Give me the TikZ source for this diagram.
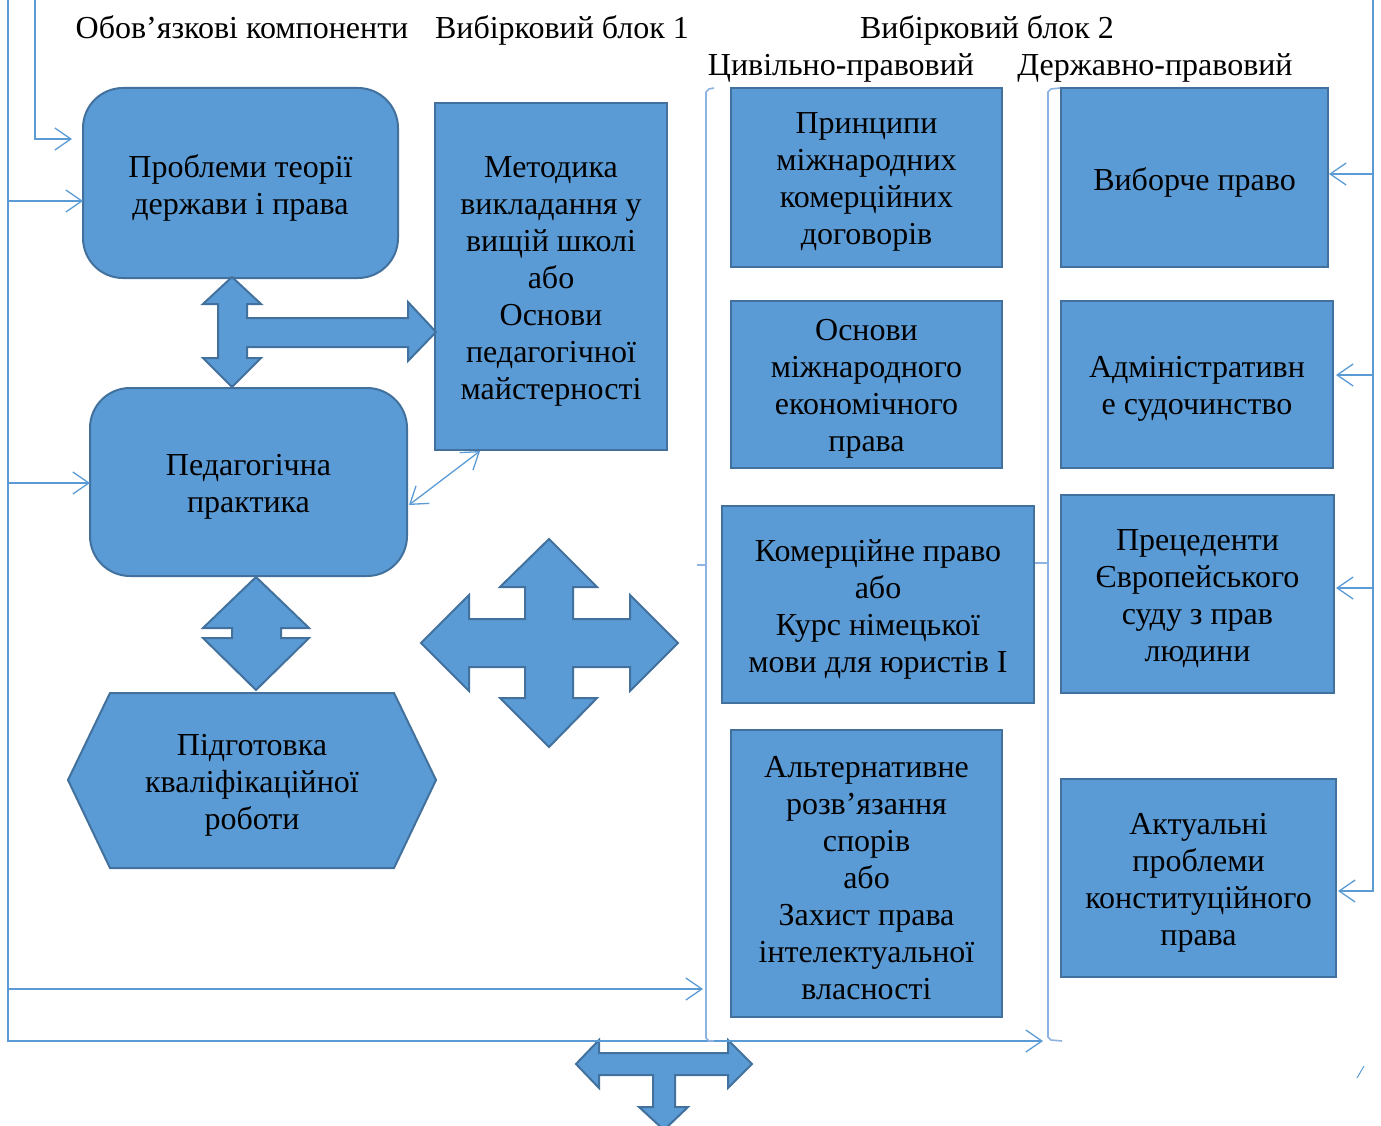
\documentclass[tikz,border=0pt]{standalone}
\usepackage{fontspec}
\setmainfont{Liberation Serif}
\usetikzlibrary{arrows.meta}
\definecolor{boxfill}{HTML}{5B9BD5}
\definecolor{boxline}{HTML}{41719C}
\definecolor{conn}{HTML}{5B9BD5}
\definecolor{brk}{HTML}{8DB3E2}
\begin{document}
\begin{tikzpicture}[x=1pt,y=-1pt,
  txt/.style={font=\fontsize{32}{37}\selectfont, align=center, inner sep=0pt},
  box/.style={draw=boxline, fill=boxfill, line width=2pt, inner sep=0pt},
  rbox/.style={box, rounded corners=40pt},
  lab/.style={label={[txt,yshift=-4.5pt]center:{#1}}},
  hdr/.style={txt, anchor=base},
  blockarrow/.style={draw=boxline, fill=boxfill, line width=2pt, line join=miter},
  conn/.style={draw=conn, line width=1.3pt},
  tip/.style={-{Straight Barb[length=16pt,width=22pt,line width=1.3pt]}},
  dtip/.style={{Straight Barb[length=16pt,width=22pt,line width=1.3pt]}-{Straight Barb[length=16pt,width=22pt,line width=1.3pt]}},
  brk/.style={draw=brk, line width=1.6pt}
]
\useasboundingbox (0,0) rectangle (1381,1126);

% headers
\node[hdr] (h1) at (242,39) {Обов’язкові компоненти};
\node[hdr] (h2) at (562,39) {Вибірковий блок 1};
\node[hdr] (h3) at (987,39) {Вибірковий блок 2};
\node[hdr] (h4) at (841,76) {Цивільно-правовий};
\node[hdr] (h5) at (1155,76) {Державно-правовий};

% column 1
\node[rbox, minimum width=315pt, minimum height=190pt, lab={Проблеми теорії\\держави і права}] (b1) at (240.5,183) {};
\node[rbox, minimum width=317pt, minimum height=188pt, lab={Педагогічна\\практика}] (b2) at (248.5,482) {};
\draw[blockarrow] (110,693) -- (394,693) -- (436,780) -- (394,868) -- (110,868) -- (68,780) -- cycle;
\node[txt] (hex) at (252,785) {Підготовка\\кваліфікаційної\\роботи};

% column block 1
\node[box, minimum width=232pt, minimum height=347pt, lab={Методика\\викладання у\\вищій школі\\або\\Основи\\педагогічної\\майстерності}] (m1) at (551,276.5) {};

% column 2
\node[box, minimum width=271pt, minimum height=179pt, lab={Принципи\\міжнародних\\комерційних\\договорів}] (c1) at (866.5,177.5) {};
\node[box, minimum width=271pt, minimum height=167pt, lab={Основи\\міжнародного\\економічного\\права}] (c2) at (866.5,384.5) {};
\node[box, minimum width=312pt, minimum height=197pt, lab={Комерційне право\\або\\Курс німецької\\мови для юристів І}] (c3) at (878,604.5) {};
\node[box, minimum width=271pt, minimum height=287pt, lab={Альтернативне\\розв’язання\\спорів\\або\\Захист права\\інтелектуальної\\власності}] (c4) at (866.5,873.5) {};

% column 3
\node[box, minimum width=267pt, minimum height=179pt, lab={Виборче право}] (d1) at (1194.5,177.5) {};
\node[box, minimum width=272pt, minimum height=167pt, lab={Адміністративн\\е судочинство}] (d2) at (1197,384.5) {};
\node[box, minimum width=273pt, minimum height=198pt, lab={Прецеденти\\Європейського\\суду з прав\\людини}] (d3) at (1197.5,594) {};
\node[box, minimum width=275pt, minimum height=198pt, lab={Актуальні\\проблеми\\конституційного\\права}] (d4) at (1198.5,878) {};

% block arrows
\draw[blockarrow] (232,277) -- (261,304) -- (247,304) -- (247,318) -- (408,318) -- (408,302) -- (436,332) -- (408,361) -- (408,347) -- (247,347) -- (247,358) -- (261,358) -- (232,387) -- (203,358) -- (218,358) -- (218,304) -- (203,304) -- cycle;
\draw[blockarrow] (256,577) -- (309,628) -- (281,628) -- (281,638) -- (309,638) -- (256,690) -- (203,638) -- (232,638) -- (232,628) -- (203,628) -- cycle;
\draw[blockarrow] (549,539) -- (597,587) -- (573,587) -- (573,619) -- (630,619) -- (630,595) -- (678,643) -- (630,691) -- (630,667) -- (573,667) -- (573,698) -- (597,698) -- (549,747) -- (500,698) -- (525,698) -- (525,667) -- (469,667) -- (469,691) -- (421,643) -- (469,595) -- (469,619) -- (525,619) -- (525,587) -- (500,587) -- cycle;
\draw[blockarrow] (576,1064) -- (599,1040) -- (599,1053) -- (728,1053) -- (728,1040) -- (752,1064) -- (728,1088) -- (728,1075) -- (675,1075) -- (675,1107) -- (688,1107) -- (664,1130) -- (639,1107) -- (653,1107) -- (653,1075) -- (599,1075) -- (599,1088) -- cycle;

% thin double arrow
\coordinate (ta) at (480,451);
\coordinate (tb) at (409,505);
\draw[conn, dtip] (ta) -- (tb);

% left connectors
\coordinate (a1) at (72,139);
\coordinate (a2) at (83,201);
\coordinate (a3) at (90,483);
\coordinate (a4) at (703,989);
\coordinate (a5) at (1043,1041);
\draw[conn, tip] (35,0) |- (a1);
\draw[conn, tip] (8,0) |- (a5);
\draw[conn, tip] (8,201) -- (a2);
\draw[conn, tip] (8,483) -- (a3);
\draw[conn, tip] (8,989) -- (a4);

% right connectors
\coordinate (r1) at (1329,174);
\coordinate (r2) at (1336,375);
\coordinate (r3) at (1336,588);
\coordinate (r4) at (1338,891);
\draw[conn, tip] (1373,0) |- (r4);
\draw[conn, tip] (1373,174) -- (r1);
\draw[conn, tip] (1373,375) -- (r2);
\draw[conn, tip] (1373,588) -- (r3);

% brackets
\draw[brk] (714,88) -- (709,89) -- (706,92) -- (706,1038) -- (709,1041) -- (714,1041);
\draw[brk] (697,565) -- (706,565);
\draw[brk] (1060,88) -- (1051,89) -- (1048,92) -- (1048,1037) -- (1051,1040) -- (1062,1041);
\draw[brk] (1035,563) -- (1048,563);

% stray mark
\draw[conn, line width=1pt] (1357,1078) -- (1364,1066);
\end{tikzpicture}
\end{document}
